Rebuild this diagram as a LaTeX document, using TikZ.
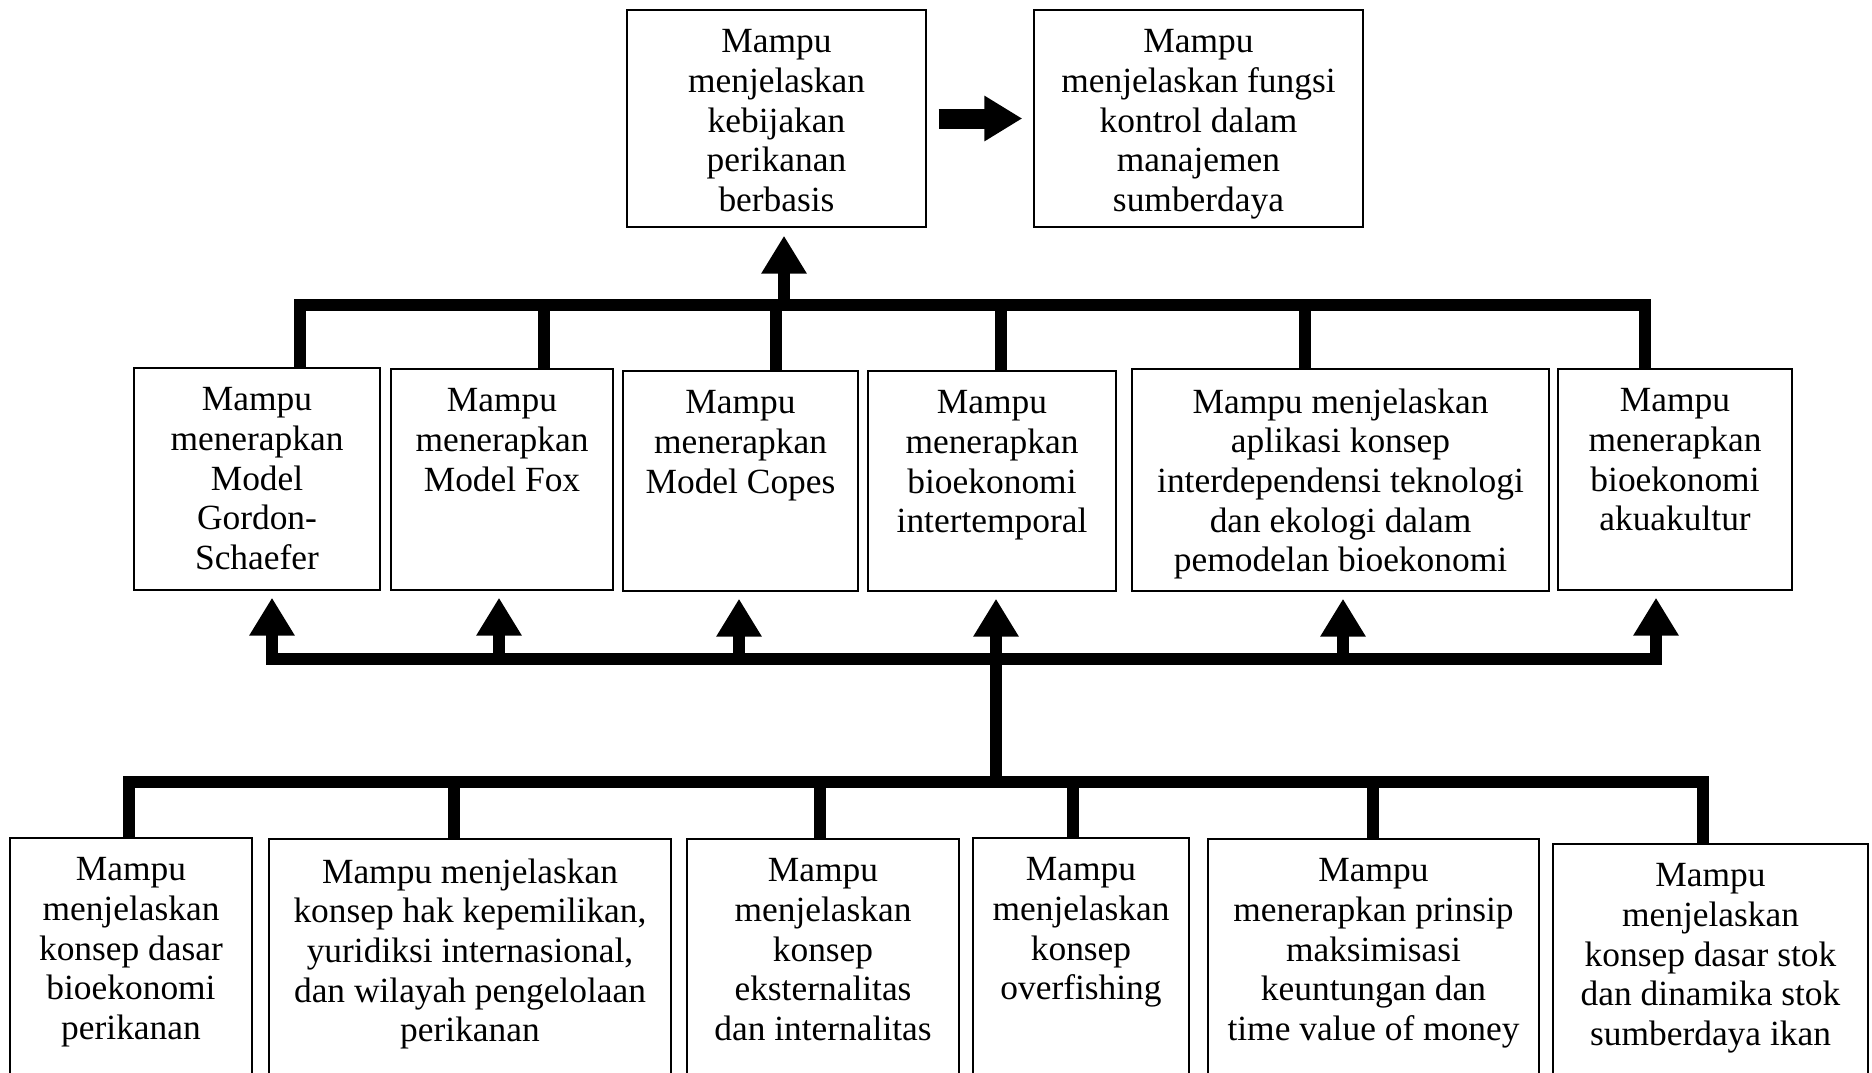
\documentclass[tikz,border=0pt]{standalone}
\usepackage{fontspec}
\setmainfont{Liberation Serif}
\usetikzlibrary{arrows.meta}
\tikzset{
  box/.style={draw=black, line width=0.7pt, inner sep=0pt, fill=white},
  txt/.style={anchor=north, align=center, inner sep=0pt, font=\fontsize{17.7}{19.8}\selectfont},
  conn/.style={draw=black, line width=6pt, line join=miter},
  uparrow/.style={conn, -{Triangle[length=19pt,width=21.5pt]}},
  twoarrow/.style={conn, {Triangle[length=19pt,width=21.5pt]}-{Triangle[length=19pt,width=21.5pt]}},
  blockarrow/.style={draw=black, line width=10pt, -{Triangle[length=19pt,width=21.5pt]}},
}
\newcommand\mybox[6]{%
  \node[box, minimum width={(#4-#2)*0.5pt}, minimum height={(#5-#3)*0.5pt}] (#1) at ({(#2+#4)/2},{(#3+#5)/2}) {};
  \node[txt] (#1t) at ([yshift=-10pt]#1.north) {#6};
}
\begin{document}
\begin{tikzpicture}[x=0.5pt,y=-0.5pt]
\useasboundingbox (0,0) rectangle (1872,1072);
\begin{scope}
\clip (0,0) rectangle (1872,1072);
% top
\mybox{T1}{627}{10}{926}{227}{Mampu\\menjelaskan\\kebijakan\\perikanan\\berbasis}
\mybox{T2}{1034}{10}{1363}{227}{Mampu\\menjelaskan fungsi\\kontrol dalam\\manajemen\\sumberdaya}
% middle
\mybox{M1}{134}{368}{380}{590}{Mampu\\menerapkan\\Model\\Gordon-\\Schaefer}
\mybox{M2}{391}{369}{613}{590}{Mampu\\menerapkan\\Model Fox}
\mybox{M3}{623}{371}{858}{591}{Mampu\\menerapkan\\Model Copes}
\mybox{M4}{868}{371}{1116}{591}{Mampu\\menerapkan\\bioekonomi\\intertemporal}
\mybox{M5}{1132}{369}{1549}{591}{Mampu menjelaskan\\aplikasi konsep\\interdependensi teknologi\\dan ekologi dalam\\pemodelan bioekonomi}
\mybox{M6}{1558}{369}{1792}{590}{Mampu\\menerapkan\\bioekonomi\\akuakultur}
% bottom
\mybox{B1}{10}{838}{252}{1090}{Mampu\\menjelaskan\\konsep dasar\\bioekonomi\\perikanan}
\mybox{B2}{269}{839}{671}{1090}{Mampu menjelaskan\\konsep hak kepemilikan,\\yuridiksi internasional,\\dan wilayah pengelolaan\\perikanan}
\mybox{B3}{687}{839}{959}{1090}{Mampu\\menjelaskan\\konsep\\eksternalitas\\dan internalitas}
\mybox{B4}{973}{838}{1189}{1090}{Mampu\\menjelaskan\\konsep\\overfishing}
\mybox{B5}{1208}{839}{1539}{1090}{Mampu\\menerapkan prinsip\\maksimisasi\\keuntungan dan\\time value of money}
\mybox{B6}{1553}{844}{1868}{1090}{Mampu\\menjelaskan\\konsep dasar stok\\dan dinamika stok\\sumberdaya ikan}

% block arrow between top boxes
\draw[blockarrow, shorten <=6pt, shorten >=5.5pt] (T1.east) -- (T2.west);

% top bar
\coordinate (tb1) at (300,304.5);
\coordinate (tb2) at (544,304.5);
\coordinate (tb3) at (776,304.5);
\coordinate (tb4) at (1000.5,304.5);
\coordinate (tb5) at (1305,304.5);
\coordinate (tb6) at (1645,304.5);
\coordinate (tup) at (784,304.5);
\draw[conn] (tb1 |- M1.north) -- (tb1) -- (tb6) -- (tb6 |- M6.north);
\draw[conn] (tb2) -- (tb2 |- M2.north);
\draw[conn] (tb3) -- (tb3 |- M3.north);
\draw[conn] (tb4) -- (tb4 |- M4.north);
\draw[conn] (tb5) -- (tb5 |- M5.north);
\draw[uparrow, shorten >=4pt] (tup) -- (tup |- T1.south);

% lower bar
\coordinate (lb1) at (272,659);
\coordinate (lb2) at (499,659);
\coordinate (lb3) at (739,659);
\coordinate (lb4) at (996,659);
\coordinate (lb5) at (1343,659);
\coordinate (lb6) at (1656,659);
\draw[twoarrow, shorten <=3.5pt, shorten >=3.5pt] (lb1 |- M1.south) -- (lb1) -- (lb6) -- (lb6 |- M6.south);
\draw[uparrow, shorten >=3.5pt] (lb2) -- (lb2 |- M2.south);
\draw[uparrow, shorten >=3.5pt] (lb3) -- (lb3 |- M3.south);
\draw[uparrow, shorten >=3.5pt] (lb4) -- (lb4 |- M4.south);
\draw[uparrow, shorten >=3.5pt] (lb5) -- (lb5 |- M5.south);

% bottom bar
\coordinate (bb1) at (129,782);
\coordinate (bb2) at (454,782);
\coordinate (bb3) at (820,782);
\coordinate (bb4) at (1073,782);
\coordinate (bb5) at (1373,782);
\coordinate (bb6) at (1703,782);
\coordinate (bm) at (996,782);
\draw[conn] (bb1 |- B1.north) -- (bb1) -- (bb6) -- (bb6 |- B6.north);
\draw[conn] (bb2) -- (bb2 |- B2.north);
\draw[conn] (bb3) -- (bb3 |- B3.north);
\draw[conn] (bb4) -- (bb4 |- B4.north);
\draw[conn] (bb5) -- (bb5 |- B5.north);
\draw[conn] (bm) -- (lb4);
\end{scope}
\end{tikzpicture}
\end{document}
